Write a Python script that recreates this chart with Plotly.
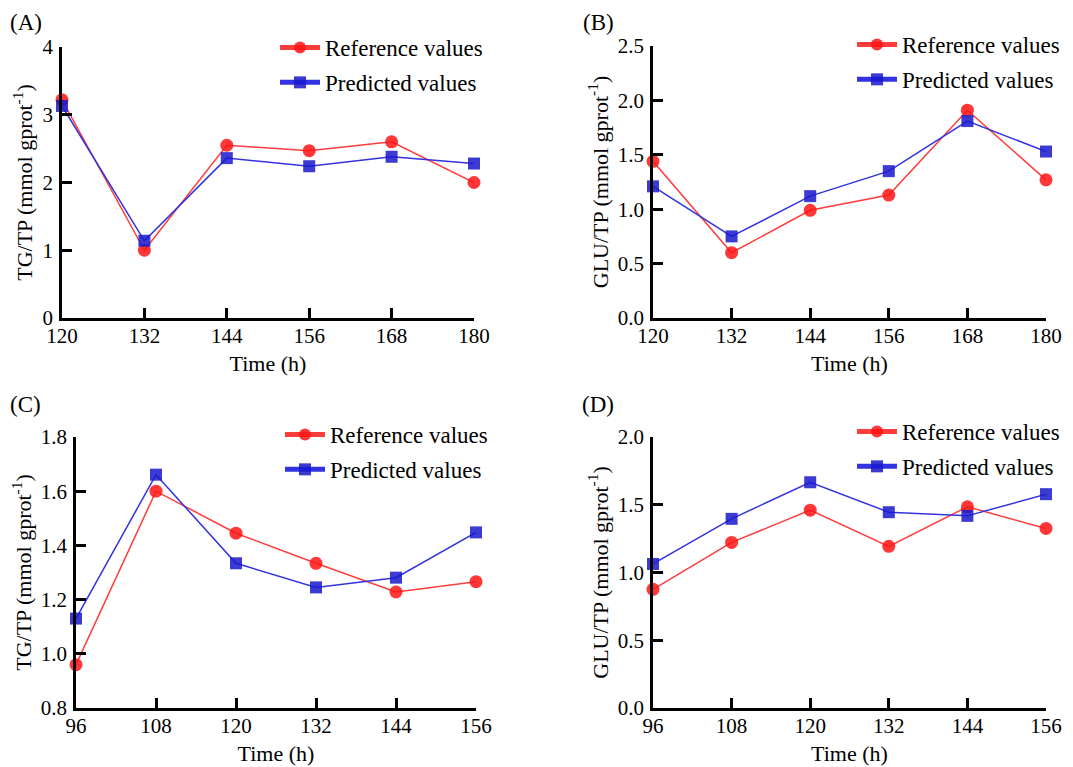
import plotly.graph_objects as go

# ---- data ----
time_ab = [120, 132, 144, 156, 168, 180]
time_cd = [96, 108, 120, 132, 144, 156]

a_reference = [3.22, 1.00, 2.55, 2.47, 2.60, 2.00]
a_predicted = [3.13, 1.14, 2.36, 2.24, 2.38, 2.28]

b_reference = [1.44, 0.60, 0.99, 1.13, 1.91, 1.27]
b_predicted = [1.21, 0.75, 1.12, 1.35, 1.81, 1.53]

c_reference = [0.96, 1.60, 1.445, 1.334, 1.228, 1.266]
c_predicted = [1.13, 1.661, 1.334, 1.245, 1.281, 1.448]

d_reference = [0.876, 1.222, 1.46, 1.193, 1.485, 1.325]
d_predicted = [1.063, 1.396, 1.666, 1.445, 1.418, 1.578]

panel_labels = ["(A)", "(B)", "(C)", "(D)"]
y_titles = ["TG/TP (mmol gprot<sup>-1</sup>)", "GLU/TP (mmol gprot<sup>-1</sup>)",
            "TG/TP (mmol gprot<sup>-1</sup>)", "GLU/TP (mmol gprot<sup>-1</sup>)"]
x_title = "Time (h)"
series_names = ["Reference values", "Predicted values"]

# page body has an 8px margin; figure fills the rest of the 1073x767 window
OFF = 8
W, H = 1073 - OFF, 767 - OFF
FONT = "Liberation Serif"
RED_LINE = "rgba(255,60,60,1)"
RED_MARK = "rgba(255,20,20,0.85)"
BLUE_LINE = "rgba(50,50,225,1)"
BLUE_MARK = "rgba(25,25,205,0.85)"

def fx(v):
    return (v - OFF) / W

def fy(v):
    return 1 - (v - OFF) / H

def px_x(a, b):
    return [fx(a), fx(b)]

def px_y(top, bottom):
    return [fy(bottom), fy(top)]

panels = [
    dict(x=time_ab, ref=a_reference, pred=a_predicted, xd=px_x(62, 474), yd=px_y(47, 318),
         xr=[120, 180], yr=[0, 4], dt=1, fmt="", xt=time_ab,
         leg=(275, 26), lab=(26, 23)),
    dict(x=time_ab, ref=b_reference, pred=b_predicted, xd=px_x(653, 1046), yd=px_y(46, 318),
         xr=[120, 180], yr=[0, 2.5], dt=0.5, fmt=".1f", xt=time_ab,
         leg=(852, 23), lab=(598, 23)),
    dict(x=time_cd, ref=c_reference, pred=c_predicted, xd=px_x(76, 476), yd=px_y(437, 708),
         xr=[96, 156], yr=[0.8, 1.8], dt=0.2, fmt=".1f", xt=time_cd,
         leg=(280, 413), lab=(26, 404)),
    dict(x=time_cd, ref=d_reference, pred=d_predicted, xd=px_x(653, 1046), yd=px_y(437, 708),
         xr=[96, 156], yr=[0, 2.0], dt=0.5, fmt=".1f", xt=time_cd,
         leg=(852, 410), lab=(598, 404)),
]

fig = go.Figure()
layout = dict(
    width=W, height=H, margin=dict(l=0, r=0, t=0, b=0, autoexpand=False),
    paper_bgcolor="white", plot_bgcolor="white",
    font=dict(family=FONT, color="black", size=20),
    showlegend=True, annotations=[],
)

for i, p in enumerate(panels):
    n = i + 1
    xa = "x" if n == 1 else f"x{n}"
    ya = "y" if n == 1 else f"y{n}"
    leg = "legend" if n == 1 else f"legend{n}"
    fig.add_trace(go.Scatter(
        x=p["x"], y=p["ref"], mode="lines+markers", name=series_names[0],
        xaxis=xa, yaxis=ya, legend=leg, legendgroup=f"r{n}", cliponaxis=False,
        line=dict(color=RED_LINE, width=1.5),
        marker=dict(symbol="circle", size=13, color=RED_MARK, line=dict(width=0)),
    ))
    fig.add_trace(go.Scatter(
        x=p["x"], y=p["pred"], mode="lines+markers", name=series_names[1],
        xaxis=xa, yaxis=ya, legend=leg, legendgroup=f"p{n}", cliponaxis=False,
        line=dict(color=BLUE_LINE, width=1.5),
        marker=dict(symbol="square", size=12, color=BLUE_MARK, line=dict(width=0)),
    ))
    axis_common = dict(
        showline=True, linecolor="black", linewidth=2.5, showgrid=False, zeroline=False,
        ticks="inside", ticklen=10, tickwidth=2.5, tickcolor="black", automargin=False,
        tickfont=dict(family=FONT, size=21, color="black"),
    )
    layout[("xaxis" if n == 1 else f"xaxis{n}")] = dict(
        axis_common, domain=p["xd"], range=p["xr"], anchor=ya,
        tickmode="array", tickvals=p["xt"], ticklabelstandoff=-3,
        title=dict(text=x_title, font=dict(family=FONT, size=22), standoff=9),
    )
    layout[("yaxis" if n == 1 else f"yaxis{n}")] = dict(
        axis_common, domain=p["yd"], range=p["yr"], anchor=xa,
        tick0=p["yr"][0], dtick=p["dt"], tickformat=p["fmt"], ticklabelstandoff=2,
        title=dict(text=y_titles[i], font=dict(family=FONT, size=22), standoff=4),
    )
    layout[leg] = dict(
        x=fx(p["leg"][0]), y=fy(p["leg"][1]), xanchor="left", yanchor="top",
        bgcolor="rgba(0,0,0,0)", font=dict(family=FONT, size=23, color="black"),
        tracegroupgap=2, traceorder="grouped", itemsizing="constant", itemwidth=40,
    )
    layout["annotations"].append(dict(
        text=panel_labels[i], x=fx(p["lab"][0]), y=fy(p["lab"][1]),
        xref="paper", yref="paper", xanchor="center", yanchor="middle",
        showarrow=False, font=dict(family=FONT, size=23, color="black"),
    ))

fig.update_layout(**layout)
fig.write_html("out.html")
